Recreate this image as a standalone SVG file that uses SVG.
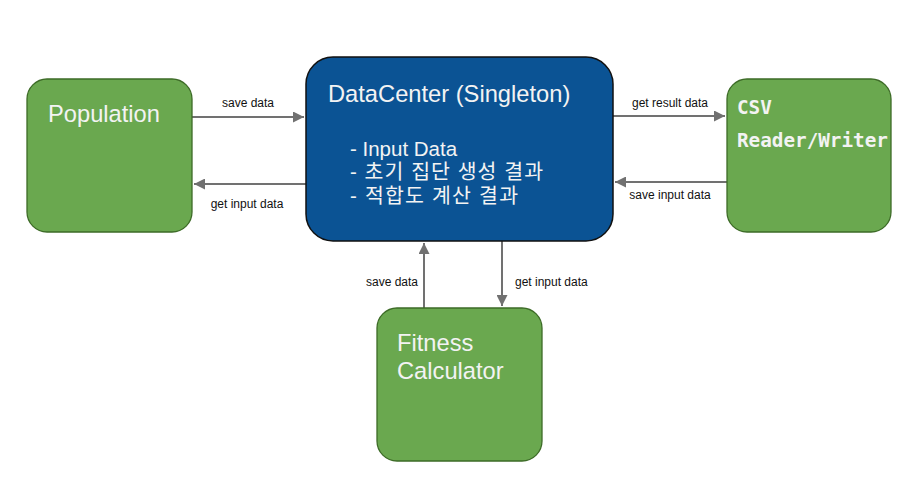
<svg xmlns="http://www.w3.org/2000/svg" width="921" height="484" viewBox="0 0 921 484">
<style>
.green{fill:#6aa84f;stroke:#3d6b27;stroke-width:1.3}
.blue{fill:#0b5394;stroke:#111;stroke-width:1.5}
.title{font-family:"Liberation Sans",Arial,sans-serif;font-size:23.7px;fill:#f3f3f3}
.list{font-family:"Liberation Sans","Noto Sans CJK KR",sans-serif;font-size:20.5px;fill:#f3f3f3}
.mono{font-family:"DejaVu Sans Mono","Liberation Mono",monospace;font-weight:bold;font-size:19.3px;fill:#f3f3f3}
.lbl{font-family:"Liberation Sans",Arial,sans-serif;font-size:12px;fill:#111}
.conn{stroke:#717171;stroke-width:2;fill:none}
</style>
<defs>
<marker id="ah" viewBox="0 0 10 10" refX="10" refY="5" markerWidth="5.5" markerHeight="5.5" orient="auto" markerUnits="strokeWidth">
<path d="M0,0 L10,5 L0,10 z" fill="#717171"/>
</marker>
</defs>
<rect width="921" height="484" fill="#fff"/>
<g id="connectors">
<line class="conn" x1="192" y1="117" x2="304" y2="117" marker-end="url(#ah)"/>
<line class="conn" x1="306" y1="184" x2="194" y2="184" marker-end="url(#ah)"/>
<line class="conn" x1="613" y1="116" x2="725" y2="116" marker-end="url(#ah)"/>
<line class="conn" x1="727" y1="182" x2="615" y2="182" marker-end="url(#ah)"/>
<line class="conn" x1="424" y1="308" x2="424" y2="243" marker-end="url(#ah)"/>
<line class="conn" x1="502" y1="241" x2="502" y2="306" marker-end="url(#ah)"/>
<text class="lbl" x="248" y="107" text-anchor="middle">save data</text>
<text class="lbl" x="247" y="208" text-anchor="middle">get input data</text>
<text class="lbl" x="670" y="107" text-anchor="middle">get result data</text>
<text class="lbl" x="670" y="199" text-anchor="middle">save input data</text>
<text class="lbl" x="418" y="286" text-anchor="end">save data</text>
<text class="lbl" x="515" y="286">get input data</text>
</g>
<g id="population">
<rect class="green" x="27" y="79" width="165" height="153" rx="20"/>
<text class="title" x="48" y="122">Population</text>
</g>
<g id="datacenter">
<rect class="blue" x="306" y="57" width="307" height="184" rx="27"/>
<text class="title" x="328" y="102">DataCenter (Singleton)</text>
<text class="list" x="350" y="156">- Input Data</text>
<text class="list" x="350" y="179" textLength="193" lengthAdjust="spacing">- 초기 집단 생성 결과</text>
<text class="list" x="350" y="203" textLength="168" lengthAdjust="spacing">- 적합도 계산 결과</text>
</g>
<g id="csv">
<rect class="green" x="727" y="79" width="164" height="153" rx="20"/>
<text class="mono" x="737" y="114">CSV</text>
<text class="mono" x="737" y="147">Reader/Writer</text>
</g>
<g id="fitness">
<rect class="green" x="377" y="308" width="165" height="153" rx="20"/>
<text class="title" x="397" y="351">Fitness</text>
<text class="title" x="397" y="379">Calculator</text>
</g>
</svg>
